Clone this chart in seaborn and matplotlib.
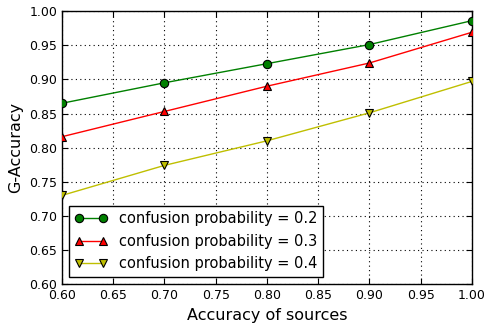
import numpy as np
import pandas as pd
import matplotlib
matplotlib.use("Agg")
import matplotlib.pyplot as plt
import seaborn as sns

accuracy = [0.6, 0.7, 0.8, 0.9, 1.0]
g_acc_02 = [0.865, 0.895, 0.923, 0.951, 0.986]
g_acc_03 = [0.816, 0.853, 0.890, 0.924, 0.969]
g_acc_04 = [0.730, 0.774, 0.810, 0.851, 0.897]
labels = ["confusion probability = 0.2", "confusion probability = 0.3", "confusion probability = 0.4"]

sns.set_style("ticks", {'text.color': 'k', 'axes.labelcolor': 'k',
                        'xtick.color': 'k', 'ytick.color': 'k'})
plt.rcParams['font.family'] = ['DejaVu Sans']

fig = plt.figure(figsize=(4.84, 3.27), dpi=100)
ax = fig.add_axes([0.128, 0.131, 0.847, 0.835])

series = [(g_acc_02, 'g', 'o'), (g_acc_03, 'r', '^'), (g_acc_04, 'y', 'v')]
for (vals, col, mk), lab in zip(series, labels):
    df = pd.DataFrame({'x': accuracy, 'y': vals})
    sns.lineplot(data=df, x='x', y='y', ax=ax, color=col, marker=mk, markersize=6,
                 markeredgecolor='k', markeredgewidth=0.8, linewidth=1, label=lab,
                 zorder=3)

ticks = np.arange(0.6, 1.001, 0.05)
ax.set_xlim(0.6, 1.0)
ax.set_ylim(0.6, 1.0)
ax.set_xticks(ticks)
ax.set_yticks(ticks)
ax.set_xticklabels(["%.2f" % v for v in ticks])
ax.set_yticklabels(["%.2f" % v for v in ticks])
ax.grid(True, linestyle=(0, (1, 3)), color='k', linewidth=0.8)
ax.tick_params(direction='in', top=True, right=True, labelsize=9, length=4, width=0.8)
for s in ax.spines.values():
    s.set_linewidth(1)
    s.set_color('k')
ax.set_xlabel("Accuracy of sources", fontsize=11.5)
ax.set_ylabel("G-Accuracy", fontsize=11.5)
leg = ax.legend(loc='lower left', fontsize=10.5, frameon=True, fancybox=False,
                edgecolor='k', framealpha=1, numpoints=2, handlelength=2.2)
leg.get_frame().set_linewidth(1)

fig.savefig("out.png", dpi=100)
